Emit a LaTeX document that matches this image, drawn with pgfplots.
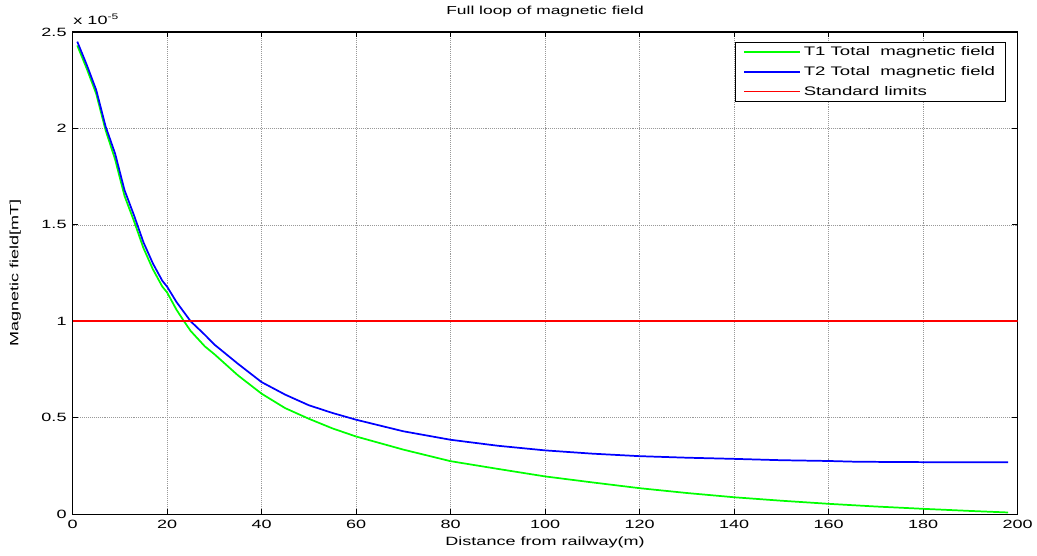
\documentclass[border=0pt]{standalone}
\usepackage{graphicx}
\usepackage{pgfplots}
\pgfplotsset{compat=1.18}
\usepackage{fontspec}
\setmainfont{Liberation Sans}
\newcommand\sx[1]{\scalebox{1.5}[1]{#1}}
\definecolor{mlgreen}{RGB}{0,255,0}
\definecolor{mlblue}{RGB}{0,0,255}
\definecolor{mlred}{RGB}{255,0,0}
\begin{document}
\begin{tikzpicture}
\begin{axis}[
  scale only axis,
  width=708.4pt, height=361.5pt,
  xmin=0, xmax=200, ymin=0, ymax=2.5,
  xtick={0,20,...,200},
  ytick={0,0.5,1,1.5,2,2.5},
  yticklabels={\sx{0},\sx{0.5},\sx{1},\sx{1.5},\sx{2},\sx{2.5}},
  xticklabels={\sx{0},\sx{20},\sx{40},\sx{60},\sx{80},\sx{100},\sx{120},\sx{140},\sx{160},\sx{180},\sx{200}},
  tick align=inside,
  tick pos=both,
  major tick length=4pt,
  every tick/.style={black, line width=0.6pt},
  axis line style={black, line width=0.8pt},
  grid=major,
  major grid style={gray!80, line width=0.45pt, densely dotted},
  tick label style={font=\fontsize{9}{11}\selectfont},
  xticklabel style={yshift=-1pt},
  yticklabel style={xshift=-1pt},
  title={\sx{Full loop of magnetic field}},
  title style={font=\fontsize{8.7}{10}\selectfont, at={(axis description cs:0.5,1)}, anchor=center, yshift=9pt, inner sep=0pt},
  xlabel={\sx{Distance from railway(m)}},
  ylabel={\sx{Magnetic field[mT]}},
  label style={font=\fontsize{9}{10}\selectfont},
  xlabel style={at={(axis description cs:0.5,0)}, anchor=center, yshift=-21pt, inner sep=0pt},
  ylabel style={at={(axis description cs:0,0.5)}, anchor=center, yshift=43pt, inner sep=0pt},
  legend style={at={(0.988,0.98)}, anchor=north east, draw=black, line width=0.6pt,
    font=\fontsize{9.3}{11}\selectfont, row sep=2.5pt, inner xsep=6pt, inner ysep=1.5pt},
  legend cell align=left,
  legend image code/.code={\draw[#1, line width=1.3pt] (0pt,0pt) -- (42pt,0pt);},
]
\addplot[color=mlgreen, line width=1.3pt] coordinates {
(1,2.43)(3,2.31)(5,2.18)(7,1.99)(9,1.84)(11,1.65)(13,1.52)(15,1.38)(17,1.27)(19,1.18)(20,1.15)(22,1.06)(23.6,1.00)(25,0.95)(28,0.87)(30,0.83)(35,0.72)(40,0.625)(45,0.55)(50,0.495)(55,0.445)(60,0.403)(70,0.335)(80,0.275)(90,0.235)(100,0.196)(110,0.165)(120,0.135)(130,0.11)(140,0.088)(150,0.07)(160,0.054)(170,0.04)(180,0.028)(190,0.017)(198,0.009)
};
\addlegendentry{\sx{T1 Total\ \ magnetic field}}
\addplot[color=mlblue, line width=1.3pt] coordinates {
(1,2.45)(3,2.33)(5,2.20)(7,2.01)(9,1.87)(11,1.68)(13,1.55)(15,1.41)(17,1.30)(19,1.21)(20,1.18)(22,1.10)(25,1.00)(28,0.93)(30,0.88)(35,0.78)(40,0.685)(45,0.62)(50,0.565)(55,0.525)(60,0.49)(70,0.43)(80,0.386)(90,0.355)(100,0.331)(110,0.314)(120,0.301)(130,0.293)(140,0.287)(150,0.280)(160,0.276)(166,0.272)(180,0.270)(198,0.270)
};
\addlegendentry{\sx{T2 Total\ \ magnetic field}}
\addplot[color=mlred, line width=1.3pt] coordinates {(0,1)(200,1)};
\addlegendentry{\sx{Standard limits}}
\end{axis}
\node[anchor=base west, font=\fontsize{9}{10}\selectfont, inner sep=0pt] at (0.5pt,367pt) {\sx{x 10\textsuperscript{-5}}};
\path (-54.4pt,-30.75pt) rectangle (723pt,385.5pt);
\end{tikzpicture}
\end{document}
